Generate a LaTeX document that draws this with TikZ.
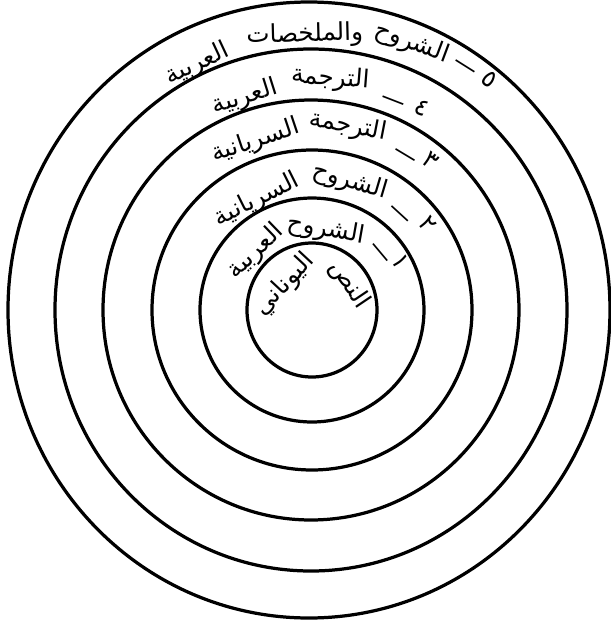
\documentclass[tikz,border=0pt]{standalone}
\usepackage{fontspec}
\usepackage{tikz}
\usetikzlibrary{positioning}
\newfontfamily\arabicfont[Script=Arabic]{DejaVu Sans}
\TeXXeTstate=1

\begin{document}
\begin{tikzpicture}[x=0.025cm,y=0.025cm,
  ring/.style={line width=2.3pt},
  word/.style={font=\arabicfont\fontsize{17.5}{20}\selectfont,inner sep=0pt}]

\useasboundingbox (-312,-311) rectangle (299,310);

% rings, inner to outer
\foreach \i/\cx/\rx/\ry in {0/0/65/67,1/0/112/112,2/0/160/160,3/-1/208/210,4/-1/256/261,5/-3/301/308}{
  \draw[ring] (\cx,0) ellipse [x radius=\rx, y radius=\ry];
}

% labels, one word at a time round the rings
\foreach \a/\r/\w [count=\k] in {
  52.5/291/٥, 57.8/285/—, 69.5/285/الشروح, 91.5/275/والملخصات, 115/271/العربية,
  61.5/230/٤, 68.8/222/—, 85.5/232/الترجمة, 107.5/223/العربية,
  51.5/191/٣, 59/178/—, 79/187/الترجمة, 108.5/178/السريانية,
  36.5/144/٢, 47.5/127/—, 73.5/134/الشروح, 116.5/123/السريانية,
  29/101/١, 40/86/—, 80/81/الشروح, 134/81/العربية,
  34/45/النص, 137/37/اليوناني}{
  \node[word,rotate=\a-90] (w\k) at (\a:\r) {\beginR\w\endR};
}

\end{tikzpicture}
\end{document}
